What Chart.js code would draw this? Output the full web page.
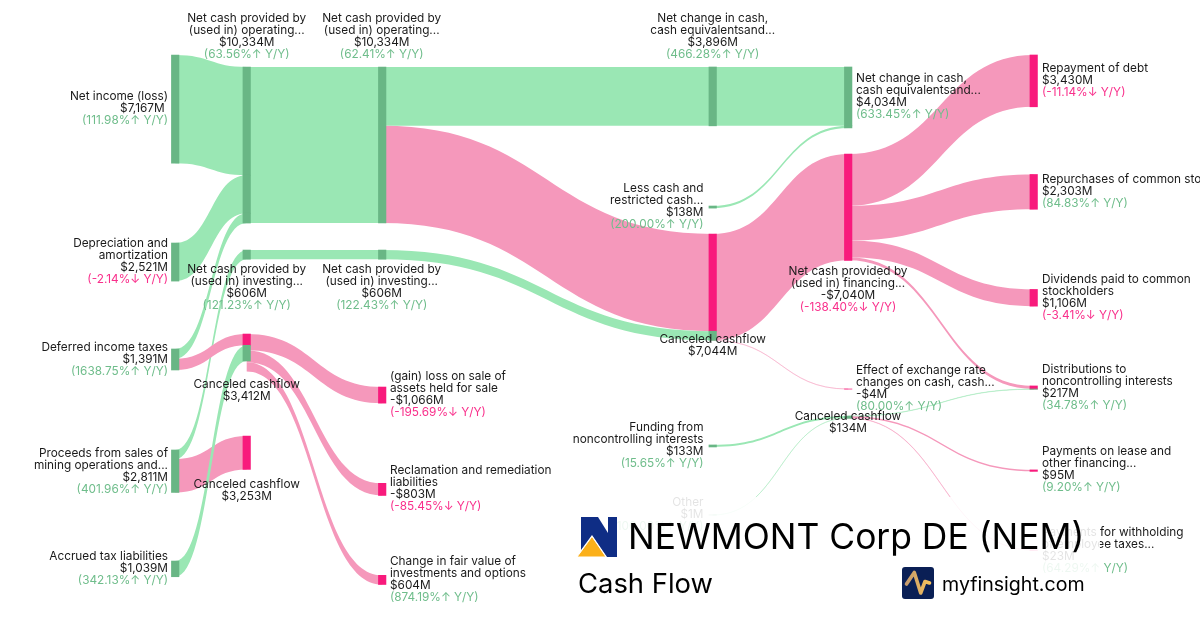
<!DOCTYPE html>
<html>
<head>
<meta charset="utf-8">
<title>NEWMONT Corp DE (NEM) Cash Flow</title>
<script src="https://cdn.jsdelivr.net/npm/chart.js@4"></script>
<style>
  html, body { margin: 0; padding: 0; background: #fff; }
  #wrap { position: relative; width: 1200px; height: 630px; overflow: hidden; font-family: Inter, sans-serif; color: #000; }
  #panel { position: absolute; left: 570px; top: 497px; width: 530px; height: 128px; background: rgba(255, 255, 255, 0.88); }
  #panel div, #panel svg { position: absolute; white-space: nowrap; }
  .company { left: 58px; top: 18px; font-size: 35.4px; line-height: 44px; }
  .section { left: 8px; top: 69px; font-size: 27.4px; line-height: 34px; }
  .site { left: 372px; top: 74px; font-size: 19.6px; line-height: 26px; }
</style>
</head>
<body>
<div id="wrap">
  <canvas id="sankey" width="1200" height="630"></canvas>
  <div id="panel">
    <svg style="left:7px;top:20px" width="41" height="41" viewBox="0 0 41 41">
      <path d="M4 0H21L31 16V0H40V40H30L15 18L4 33Z" fill="#0f2d85"/>
      <path d="M15 19.5L0 40H29Z" fill="#fbb01a" stroke="#fff" stroke-width="1"/>
    </svg>
    <div class="company">NEWMONT Corp DE (NEM)</div>
    <div class="section">Cash Flow</div>
    <svg style="left:332px;top:70px" width="32" height="32" viewBox="0 0 32 32">
      <defs><linearGradient id="pulse" x1="0" x2="1" y1="0" y2="0"><stop offset="0" stop-color="#c49a6c"/><stop offset="1" stop-color="#f7c25c"/></linearGradient></defs>
      <rect width="32" height="32" rx="3" fill="#0a1f55"/>
      <path d="M4.5 17L12.3 5.5L18.7 26L23 14.5L27.5 16" fill="none" stroke="url(#pulse)" stroke-width="3.6" stroke-linejoin="round" stroke-linecap="round"/>
    </svg>
    <div class="site">myfinsight.com</div>
  </div>
</div>
<script>
// nodes, in column order
const nodeNames = [
  'Net income (loss)', 'Depreciation and\namortization', 'Deferred income taxes',
  'Proceeds from sales of\nmining operations and...', 'Accrued tax liabilities',
  'Net cash provided by\n(used in) operating...', 'Net cash provided by\n(used in) investing...',
  'Canceled cashflow', 'Canceled cashflow',
  'Net cash provided by\n(used in) operating...', 'Net cash provided by\n(used in) investing...',
  '(gain) loss on sale of\nassets held for sale', 'Reclamation and remediation\nliabilities',
  'Change in fair value of\ninvestments and options',
  'Net change in cash,\ncash equivalentsand...', 'Less cash and\nrestricted cash...', 'Canceled cashflow',
  'Funding from\nnoncontrolling interests', 'Other',
  'Net change in cash,\ncash equivalentsand...', 'Net cash provided by\n(used in) financing...',
  'Effect of exchange rate\nchanges on cash, cash...', 'Canceled cashflow',
  'Repayment of debt', 'Repurchases of common stock', 'Dividends paid to common\nstockholders',
  'Distributions to\nnoncontrolling interests', 'Payments on lease and\nother financing...',
  'Payments for withholding\nof employee taxes...'
];
const nodeAmounts = [
  '$7,167M ', '$2,521M', '$1,391M', '$2,811M', '$1,039M',
  '$10,334M', '$606M', '$3,412M', '$3,253M',
  '$10,334M', '$606M', '-$1,066M', '-$803M', '$604M',
  '$3,896M', '$138M', '$7,044M', '$133M', '$1M',
  '$4,034M', '-$7,040M', '-$4M', '$134M',
  '$3,430M', '$2,303M', '$1,106M', '$217M', '$95M', '$23M'
];
const nodeChanges = [
  '(111.98%↑ Y/Y)', '(-2.14%↓ Y/Y)', '(1638.75%↑ Y/Y)', '(401.96%↑ Y/Y)', '(342.13%↑ Y/Y)',
  '(63.56%↑ Y/Y)', '(121.23%↑ Y/Y)', '', '',
  '(62.41%↑ Y/Y)', '(122.43%↑ Y/Y)', '(-195.69%↓ Y/Y)', '(-85.45%↓ Y/Y)', '(874.19%↑ Y/Y)',
  '(466.28%↑ Y/Y)', '(200.00%↑ Y/Y)', '', '(15.65%↑ Y/Y)', '(100.00%↑ Y/Y)',
  '(633.45%↑ Y/Y)', '(-138.40%↓ Y/Y)', '(80.00%↑ Y/Y)', '',
  '(-11.14%↓ Y/Y)', '(84.83%↑ Y/Y)', '(-3.41%↓ Y/Y)', '(34.78%↑ Y/Y)', '(9.20%↑ Y/Y)', '(64.29%↑ Y/Y)'
];

// flows in $M, listed in the order they stack on each node (later ones paint on top)
const linkFrom = [0, 1, 2, 3, 2, 3, 4, 5, 6, 7, 7, 7, 9, 9, 10, 14, 15, 16, 16, 17, 18, 20, 20, 20, 20, 22, 22, 22];
const linkTo = [5, 5, 5, 6, 7, 8, 7, 9, 10, 11, 12, 13, 14, 16, 16, 19, 19, 20, 21, 22, 22, 23, 24, 25, 26, 26, 27, 28];
const linkValues = [7167, 2521, 646, 606, 745, 2205, 1039, 10334, 606, 1066, 803, 604, 3896, 6438, 606, 3896, 138, 7040, 4, 133, 1, 3430, 2303, 1106, 201, 16, 95, 23];
const linkKinds = ['up', 'up', 'up', 'up', 'down', 'down', 'up', 'up', 'up', 'down', 'down', 'down', 'up', 'down', 'up', 'up', 'up', 'down', 'down', 'up', 'up', 'down', 'down', 'down', 'down', 'up', 'down', 'down'];

// layout: column of each node, column x, and the blank space ($M) above each node in its column
const nodeColumns = [0, 0, 0, 0, 0, 1, 1, 1, 1, 2, 2, 2, 2, 2, 3, 3, 3, 3, 3, 4, 4, 4, 4, 5, 5, 5, 5, 5, 5];
const columnX = [175.2, 246.7, 382.2, 712.7, 848.2, 1033.7];
const nodeGaps = [3642, 5285, 4497, 5298, 4543, 4437, 1788, 4957, 4974, 4437, 1788, 8467, 5311, 5291, 4437, 5311, 1715, 6927, 4503, 4437, 1728, 8523, 1788, 3642, 4483, 5311, 5285, 5344, 5205];

// label placement: align, x, y of the first line's centre
const labelAligns = ['right', 'right', 'right', 'right', 'right', 'center', 'center', 'center', 'center', 'center', 'center', 'left', 'left', 'left', 'center', 'right', 'center', 'right', 'right', 'left', 'center', 'left', 'center', 'left', 'left', 'left', 'left', 'left', 'left'];
const labelX = [168, 168, 168, 168, 168, 246.7, 246.7, 246.7, 246.7, 381.7, 381.7, 390, 390, 390, 712.7, 703.5, 712.7, 703.5, 703.5, 856, 848, 856, 848, 1042, 1042, 1042, 1042, 1042, 1042];
const labelY = [96, 243.5, 347.2, 453.2, 556.2, 18, 269.2, 384.5, 484.5, 18, 269.2, 376.5, 470.5, 561.2, 18, 188.5, 339.5, 427.2, 502.2, 78.5, 271.2, 370.5, 416.5, 68.5, 179.5, 279.2, 369.5, 451.5, 532.5];

const PX_PER_M = 0.0151;
const THIN_LINK = 50; // $M, below this a ribbon is drawn with a hairline so it stays visible
const colors = {
  up: { link: '#9ae7b4', node: '#69b685' },
  down: { link: '#f598bb', node: '#f81a7c' }
};
const textGreen = '#6fbd8b';
const textPink = '#f92f8b';
const textDark = '#1a1a1a';

// stack nodes down their columns
const nodeIn = nodeNames.map((_, i) => linkValues.reduce((s, v, l) => linkTo[l] === i ? s + v : s, 0));
const nodeOut = nodeNames.map((_, i) => linkValues.reduce((s, v, l) => linkFrom[l] === i ? s + v : s, 0));
const nodeTops = [];
const columnBottom = columnX.map(() => 0);
nodeNames.forEach((_, i) => {
  const c = nodeColumns[i];
  nodeTops[i] = columnBottom[c] + nodeGaps[i];
  columnBottom[c] = nodeTops[i] + (nodeIn[i] || nodeOut[i]);
});

// each link's start and end along the value axis
const inUsed = nodeNames.map(() => 0);
const outUsed = nodeNames.map(() => 0);
const linkSpans = linkValues.map((v, l) => {
  const a = nodeTops[linkFrom[l]] + outUsed[linkFrom[l]];
  const b = nodeTops[linkTo[l]] + inUsed[linkTo[l]];
  outUsed[linkFrom[l]] += v;
  inUsed[linkTo[l]] += v;
  return { a, b, v };
});

// node bars: one piece per incoming link, source nodes are one green piece
const barData = [];
const barColors = [];
nodeNames.forEach((_, i) => {
  const x = columnX[nodeColumns[i]];
  if (!nodeIn[i]) {
    barData.push({ x, y: [nodeTops[i], nodeTops[i] + nodeOut[i]] });
    barColors.push(colors.up.node);
    return;
  }
  linkValues.forEach((v, l) => {
    if (linkTo[l] !== i) return;
    barData.push({ x, y: [linkSpans[l].b, linkSpans[l].b + v] });
    barColors.push(colors[linkKinds[l]].node);
  });
});

const ribbons = {
  id: 'ribbons',
  beforeDatasetsDraw(chart) {
    const { ctx, scales: { x, y } } = chart;
    linkSpans.forEach((s, l) => {
      const x0 = x.getPixelForValue(columnX[nodeColumns[linkFrom[l]]]);
      const x1 = x.getPixelForValue(columnX[nodeColumns[linkTo[l]]]);
      const xm = (x0 + x1) / 2;
      const a0 = y.getPixelForValue(s.a);
      const a1 = y.getPixelForValue(s.a + s.v);
      const b0 = y.getPixelForValue(s.b);
      const b1 = y.getPixelForValue(s.b + s.v);
      ctx.beginPath();
      ctx.moveTo(x0, a0);
      ctx.bezierCurveTo(xm, a0, xm, b0, x1, b0);
      ctx.lineTo(x1, b1);
      ctx.bezierCurveTo(xm, b1, xm, a1, x0, a1);
      ctx.closePath();
      ctx.fillStyle = colors[linkKinds[l]].link;
      ctx.fill();
      if (s.v < THIN_LINK) {
        ctx.strokeStyle = colors[linkKinds[l]].link;
        ctx.lineWidth = 0.4;
        ctx.stroke();
      }
    });
  }
};

const nodeLabels = {
  id: 'nodeLabels',
  afterDatasetsDraw(chart) {
    const { ctx } = chart;
    ctx.save();
    ctx.font = '11.8px Inter, sans-serif';
    ctx.textBaseline = 'middle';
    nodeNames.forEach((name, i) => {
      ctx.textAlign = labelAligns[i];
      let ly = labelY[i];
      ctx.fillStyle = textDark;
      name.split('\n').concat(nodeAmounts[i]).forEach(t => {
        ctx.fillText(t, labelX[i], ly);
        ly += 12;
      });
      if (nodeChanges[i]) {
        ctx.fillStyle = nodeChanges[i].includes('↑') ? textGreen : textPink;
        ctx.fillText(nodeChanges[i], labelX[i], ly);
      }
    });
    ctx.restore();
  }
};

new Chart(document.getElementById('sankey'), {
  type: 'bar',
  data: {
    datasets: [{
      data: barData,
      backgroundColor: barColors,
      borderWidth: 0,
      barThickness: 7.5,
      grouped: false
    }]
  },
  options: {
    responsive: false,
    animation: false,
    layout: { padding: 0 },
    plugins: { legend: { display: false }, tooltip: { enabled: false } },
    scales: {
      x: { type: 'linear', display: false, offset: false, min: 0, max: 1200 },
      y: { type: 'linear', display: false, min: 0, max: 630 / PX_PER_M, reverse: true }
    }
  },
  plugins: [ribbons, nodeLabels]
});
</script>
</body>
</html>
